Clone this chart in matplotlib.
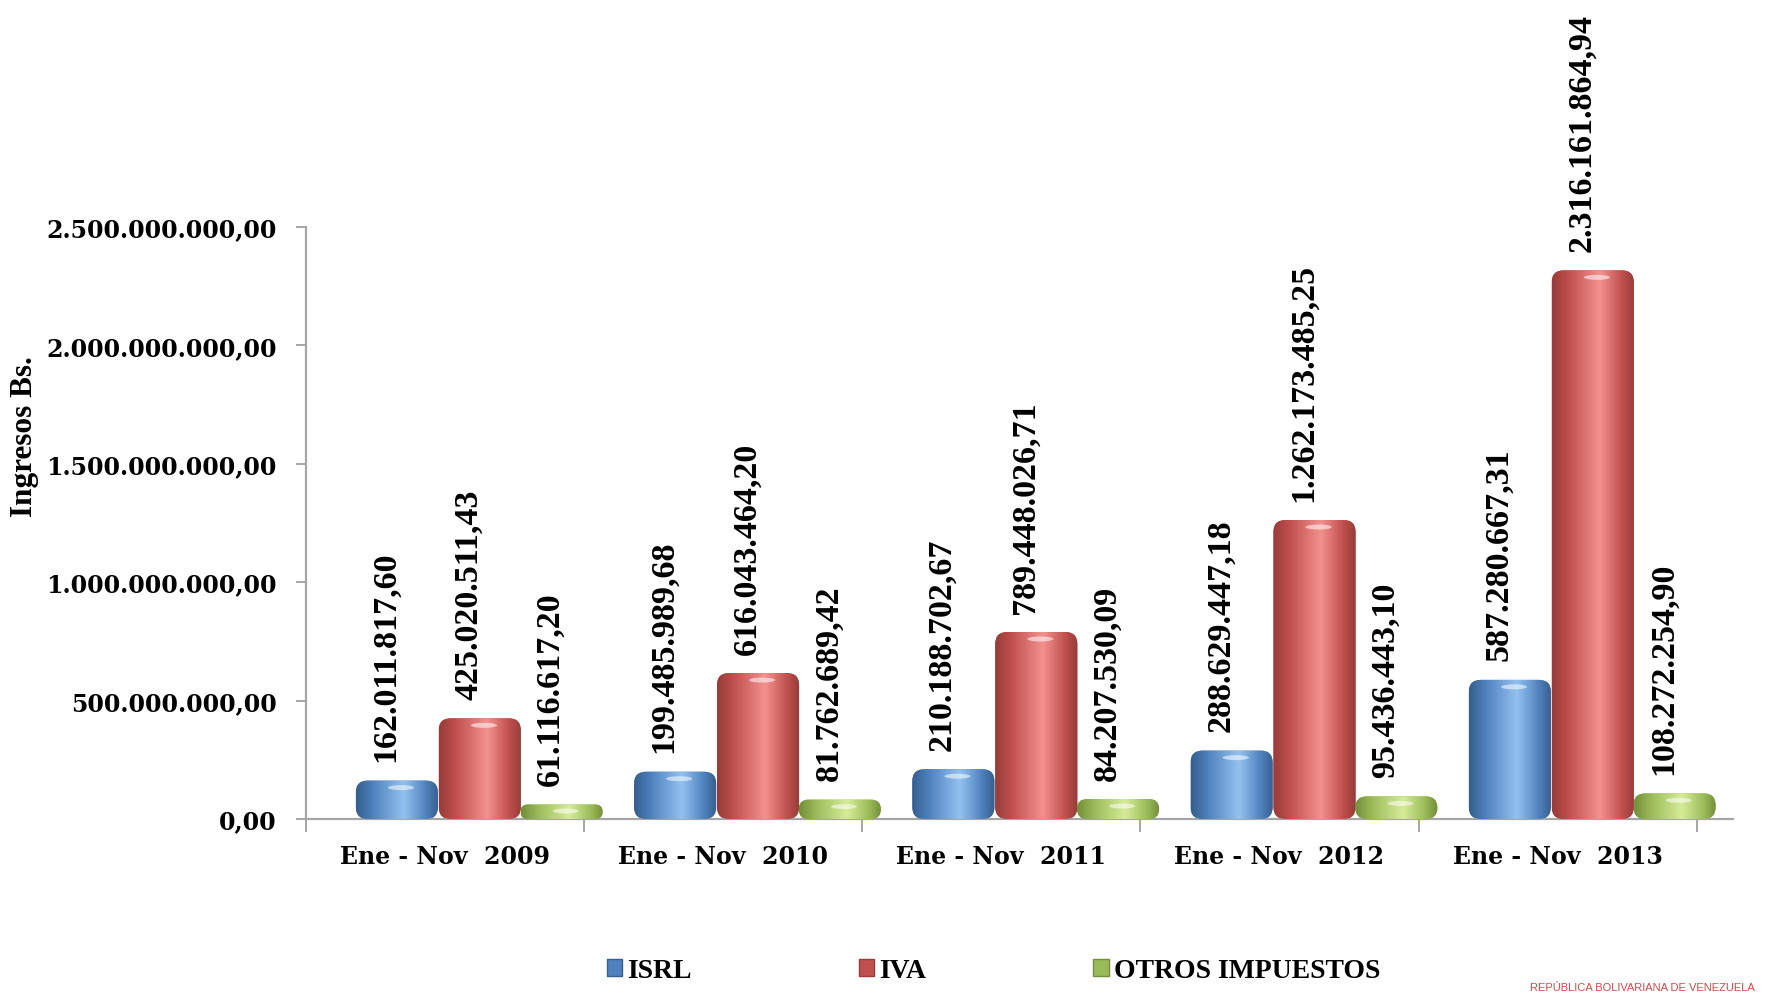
import numpy as np
import matplotlib
matplotlib.use('Agg')
import matplotlib.pyplot as plt
from matplotlib.patches import FancyBboxPatch, Patch, Ellipse
from matplotlib.colors import to_rgb

# data (Bs.)
categories = ['Ene - Nov  2009', 'Ene - Nov  2010', 'Ene - Nov  2011',
              'Ene - Nov  2012', 'Ene - Nov  2013']
isrl = [162011817.60, 199485989.68, 210188702.67, 288629447.18, 587280667.31]
iva = [425020511.43, 616043464.20, 789448026.71, 1262173485.25, 2316161864.94]
otros = [61116617.20, 81762689.42, 84207530.09, 95436443.10, 108272254.90]
series_names = ['ISRL', 'IVA', 'OTROS IMPUESTOS']
y_ticks = [0, 500e6, 1000e6, 1500e6, 2000e6, 2500e6]

# colours: base, dark edge, light streak
palette = [('#4f81bd', '#365f8f', '#93c2f0'),
           ('#c0504d', '#973c3a', '#f39290'),
           ('#9bbb59', '#738f3a', '#d6ec98')]
offsets = [-0.172, 0.126, 0.42]
bar_w = 0.295


def fmt_es(v, dec=2):
    s = f"{v:,.{dec}f}"
    return s.replace(',', '#').replace('.', ',').replace('#', '.')


fig = plt.figure(figsize=(17.68, 9.95), dpi=100)
ax = fig.add_axes([305.6 / 1768, 1 - 820 / 995, (1733 - 305.6) / 1768, (820 - 227.8) / 995])
ax.set_xlim(-0.5, 4.63)
ax.set_ylim(0, 2.5e9)

# pixel -> data conversions for rounded caps
px_x = (4.63 + 0.5) / (1733 - 305.6)
px_y = 2.5e9 / (820 - 227.8)
aspect = px_y / px_x

x = np.arange(len(categories))
all_series = [isrl, iva, otros]

for s, vals in enumerate(all_series):
    base, dark, light = palette[s]
    bars = ax.bar(x + offsets[s], vals, width=bar_w, color=base, alpha=0.0)
    grad_cols = [to_rgb(dark), to_rgb(base), to_rgb(light), to_rgb(base), to_rgb(dark)]
    pos = [0.0, 0.2, 0.58, 0.85, 1.0]
    n = 64
    t = np.linspace(0, 1, n)
    img = np.zeros((1, n, 3))
    for c in range(3):
        img[0, :, c] = np.interp(t, pos, [g[c] for g in grad_cols])
    for b, v in zip(bars, vals):
        x0, w, h = b.get_x(), b.get_width(), b.get_height()
        rs = min(12 * px_x, (h / aspect) / 2.0, w / 2.0)
        patch = FancyBboxPatch((x0, 0), w, h,
                               boxstyle=f"round,pad=0,rounding_size={rs}",
                               mutation_aspect=aspect, facecolor=base,
                               edgecolor='none', zorder=2)
        ax.add_patch(patch)
        im = ax.imshow(img, extent=[x0, x0 + w, 0, h], aspect='auto',
                       interpolation='bicubic', zorder=3)
        im.set_clip_path(patch)
        # top highlight
        hl = Ellipse((x0 + w * 0.55, h - min(7 * px_y, h * 0.45)), w * 0.32,
                     min(5 * px_y, h * 0.35), facecolor='white', alpha=0.55,
                     edgecolor='none', zorder=4)
        ax.add_patch(hl)
        hl.set_clip_path(patch)
        ax.annotate(fmt_es(v), (x0 + w / 2, h), xytext=(-8, 14),
                    textcoords='offset points', rotation=90, ha='center',
                    va='bottom', fontsize=24.5, fontweight='bold',
                    family='Liberation Serif', annotation_clip=False)

ax.set_xlim(-0.5, 4.63)
ax.set_ylim(0, 2.5e9)

for sp in ['top', 'right']:
    ax.spines[sp].set_visible(False)
for sp in ['left', 'bottom']:
    ax.spines[sp].set_color('#a6a6a6')
    ax.spines[sp].set_linewidth(1.6)

ax.set_yticks(y_ticks)
ax.set_yticklabels([fmt_es(v) for v in y_ticks], fontsize=17,
                   fontweight='bold', family='DejaVu Serif')
ax.tick_params(axis='y', direction='out', length=7, width=1.4,
               color='#a6a6a6', pad=14)

ax.set_xticks(np.arange(-0.5, 5, 1.0))
ax.set_xticklabels([])
ax.tick_params(axis='x', which='major', direction='out', length=9,
               width=1.4, color='#a6a6a6')
ax.set_xticks(x, minor=True)
ax.set_xticklabels(categories, minor=True, fontsize=17, fontweight='bold',
                   family='DejaVu Serif')
ax.tick_params(axis='x', which='minor', length=0, pad=18)

fig.text(25 / 1768, 1 - 437 / 995, 'Ingresos Bs.', rotation=90,
         ha='center', va='center', fontsize=22.5, fontweight='bold',
         family='Liberation Serif')

handles = [Patch(facecolor=palette[i][0], edgecolor=palette[i][1])
           for i in range(3)]
fig.legend(handles, series_names, loc='center',
           bbox_to_anchor=(0.562, 1 - 972 / 995), ncol=3, frameon=False,
           prop={'family': 'Liberation Serif', 'weight': 'bold', 'size': 20},
           handlelength=0.55, handleheight=0.55, handletextpad=0.2,
           columnspacing=6.0)

fig.text(1530 / 1768, 2 / 995, 'REPÚBLICA BOLIVARIANA DE VENEZUELA',
         ha='left', va='bottom', fontsize=8, color='#d04a4a',
         family='Liberation Sans')

fig.savefig('out.png', dpi=100, facecolor='white')
